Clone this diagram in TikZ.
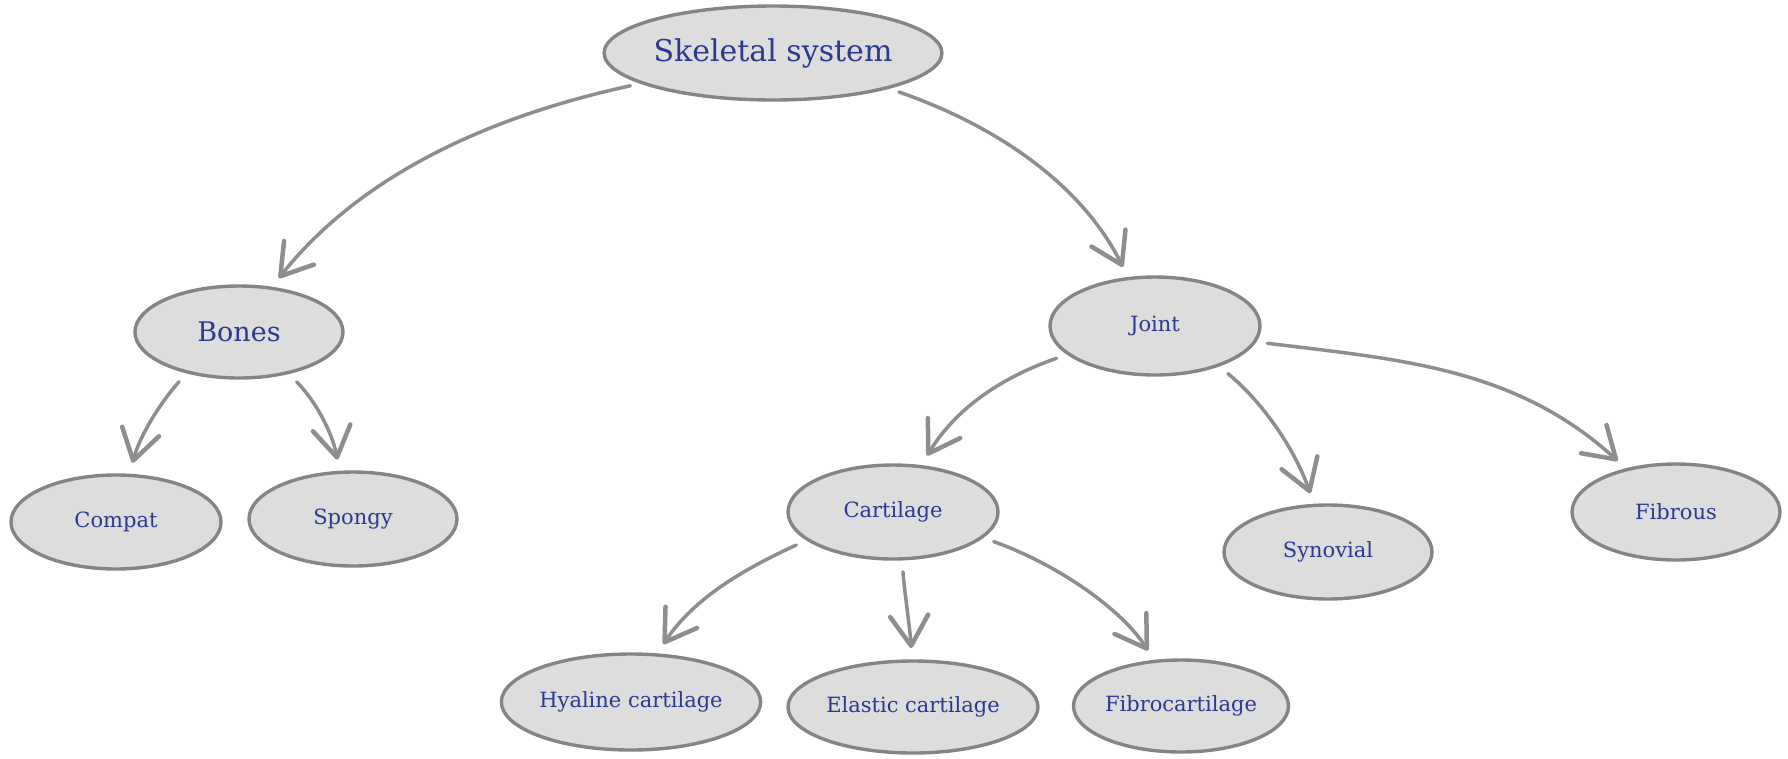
\documentclass[tikz,border=0pt]{standalone}
\usepackage{fontspec}
\setmainfont{DejaVu Serif}
\usetikzlibrary{shapes.geometric, arrows.meta}
\definecolor{nodefill}{HTML}{DDDDDD}
\definecolor{nodeline}{HTML}{858585}
\definecolor{linkcol}{HTML}{8E8E8E}
\definecolor{txt}{HTML}{2B3990}
\begin{document}
\begin{tikzpicture}[x=1pt,y=-1pt,
  oval/.style={ellipse, draw=nodeline, fill=nodefill, line width=3.4pt, inner sep=0pt, outer sep=0pt, text=txt, font=\fontsize{21}{25}\selectfont},
  bigtext/.style={font=\fontsize{30}{36}\selectfont},
  link/.style={draw=linkcol, line width=3.5pt, line cap=round, shorten <=13pt, shorten >=13pt,
    -{Straight Barb[length=30pt, width=38pt, round, line width=4.5pt]}}]
\useasboundingbox (0,0) rectangle (1788,758);
\node[oval, bigtext, minimum width=334pt, minimum height=94pt] (sk) at (773,53) {Skeletal system};
\node[oval, font=\fontsize{27}{32}\selectfont, minimum width=208pt, minimum height=92pt] (bones) at (239,332) {Bones};
\node[oval, minimum width=210pt, minimum height=94pt] (compat) at (116,522) {Compat};
\node[oval, minimum width=208pt, minimum height=94pt] (spongy) at (353,519) {Spongy};
\node[oval, minimum width=210pt, minimum height=98pt] (joint) at (1155,326) {Joint};
\node[oval, minimum width=210pt, minimum height=94pt] (cart) at (893,512) {Cartilage};
\node[oval, minimum width=208pt, minimum height=94pt] (syn) at (1328,552) {Synovial};
\node[oval, minimum width=208pt, minimum height=96pt] (fib) at (1676,512) {Fibrous};
\node[oval, minimum width=258pt, minimum height=96pt] (hya) at (631,702) {Hyaline cartilage};
\node[oval, minimum width=250pt, minimum height=92pt] (ela) at (913,707) {Elastic cartilage};
\node[oval, minimum width=214pt, minimum height=92pt] (fibro) at (1181,706) {Fibrocartilage};
\draw[link] (sk.193) .. controls +(-147,32) and +(93,-117) .. (bones.54);
\draw[link] (sk.-17) .. controls +(104,36) and +(-49,-98) .. (joint.119);
\draw[link] (bones.218) .. controls +(-27,30) and +(10,-39) .. (compat.74);
\draw[link] (bones.-40) .. controls +(28,28) and +(-7,-39) .. (spongy.106);
\draw[link] (joint.198) .. controls +(-66,23) and +(37,-60) .. (cart.59);
\draw[link] (joint.-32) .. controls +(46,38) and +(-20,-56) .. (syn.106);
\draw[link] (joint.-9) .. controls +(149,18) and +(-111,-101) .. (fib.139);
\draw[link] (cart.198) .. controls +(-63,29) and +(39,-58) .. (hya.62);
\draw[link] (cart.-79) .. controls +(2,30) and +(-2,-30) .. (ela.91);
\draw[link] (cart.-16) .. controls +(66,23) and +(-38,-58) .. (fibro.120);
\end{tikzpicture}
\end{document}
